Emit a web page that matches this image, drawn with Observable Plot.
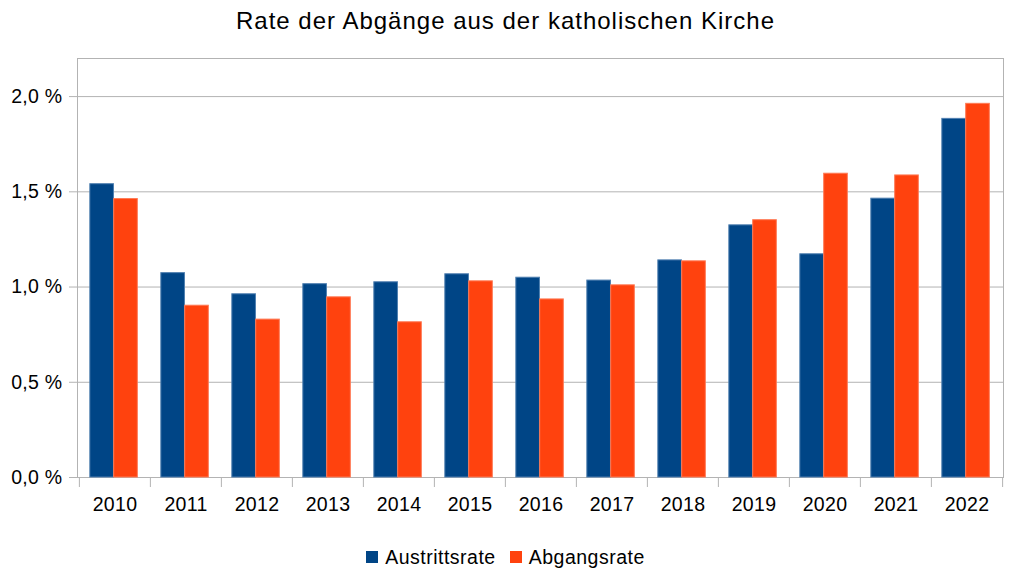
<!DOCTYPE html>
<html>
<head>
<meta charset="utf-8">
<script src="https://cdn.jsdelivr.net/npm/d3@7"></script>
<script src="https://cdn.jsdelivr.net/npm/@observablehq/plot@0.6"></script>
<style>
  html, body { margin: 0; padding: 0; background: #fff; }
  body { width: 1011px; height: 574px; position: relative; overflow: hidden;
         font-family: "Liberation Sans", Arial, sans-serif; color: #000; }
  #title { position: absolute; left: 0; width: 1011px; top: 6px; text-align: center;
           font-size: 24px; line-height: 30px; letter-spacing: 1px; }
  #chart { position: absolute; left: 0; top: 0; }
  #legend { position: absolute; left: 0; width: 1011px; top: 545px; display: flex;
            justify-content: center; align-items: center; font-size: 19.5px; line-height: 24px;
            letter-spacing: 0.5px; }
  #legend .item { display: flex; align-items: center; margin: 0 7px; }
  #legend .sw { width: 12px; height: 12px; margin-right: 7px; }
  #chart g[aria-label="y-axis tick"] { stroke: #b3b3b3; }
  #chart g[aria-label="y-axis tick label"], #chart g[aria-label="x-axis tick label"] { letter-spacing: 0.3px; }
</style>
</head>
<body>
<div id="chart"></div>
<div id="title">Rate der Abgänge aus der katholischen Kirche</div>
<div id="legend"></div>
<script>
// Jahre und Raten (in Prozent)
const years = ["2010", "2011", "2012", "2013", "2014", "2015", "2016", "2017", "2018", "2019", "2020", "2021", "2022"];
const austrittsrate = [1.54, 1.073, 0.962, 1.015, 1.025, 1.067, 1.049, 1.034, 1.14, 1.324, 1.172, 1.464, 1.883];
const abgangsrate = [1.462, 0.902, 0.829, 0.946, 0.815, 1.03, 0.935, 1.009, 1.135, 1.351, 1.595, 1.586, 1.962];
const seriesNames = ["Austrittsrate", "Abgangsrate"];
const seriesColors = ["#004586", "#ff420e"];
const yTicks = [0, 0.5, 1.0, 1.5, 2.0];

const W = 1011, H = 574;
const margin = {top: 58, right: 8, bottom: 97, left: 77};
const bw = (W - margin.left - margin.right) / years.length;
const lead = 0.152, barFrac = 0.335;
const plotH = H - margin.top - margin.bottom;

const rowsA = years.map((year, i) => ({year, value: austrittsrate[i]}));
const rowsB = years.map((year, i) => ({year, value: abgangsrate[i]}));
const fmt = d => d.toFixed(1).replace(".", ",") + " %";

const chart = Plot.plot({
  width: W,
  height: H,
  marginTop: margin.top,
  marginRight: margin.right,
  marginBottom: margin.bottom,
  marginLeft: margin.left,
  style: {fontFamily: "Liberation Sans, Arial, sans-serif", fontSize: "19.5px", color: "#000", background: "#fff"},
  x: {type: "band", domain: years, padding: 0},
  y: {domain: [0, 2.2]},
  marks: [
    Plot.gridY(yTicks, {stroke: "#b3b3b3", strokeOpacity: 1}),
    Plot.frame({stroke: "#b3b3b3"}),
    // category separators below the axis
    Plot.ruleX(years, {x: d => d, dx: -bw / 2, stroke: "#b3b3b3", insetTop: plotH, insetBottom: -10}),
    Plot.ruleX(years.slice(-1), {x: d => d, dx: bw / 2, stroke: "#b3b3b3", insetTop: plotH, insetBottom: -10}),
    Plot.barY(rowsA, {x: "year", y: "value", fill: seriesColors[0],
      stroke: "#4f7fb0", strokeWidth: 1,
      insetLeft: lead * bw, insetRight: (1 - lead - barFrac) * bw}),
    Plot.barY(rowsB, {x: "year", y: "value", fill: seriesColors[1],
      stroke: "#ff7a55", strokeWidth: 1,
      insetLeft: (lead + barFrac) * bw, insetRight: (1 - lead - 2 * barFrac) * bw}),
    Plot.axisY({ticks: yTicks, tickSize: 8, tickPadding: 7, tickFormat: fmt, label: null}),
    Plot.axisX({tickSize: 0, tickPadding: 20, label: null})
  ]
});
document.getElementById("chart").appendChild(chart);

const legend = document.getElementById("legend");
seriesNames.forEach((name, i) => {
  const item = document.createElement("div");
  item.className = "item";
  const sw = document.createElement("div");
  sw.className = "sw";
  sw.style.background = seriesColors[i];
  const label = document.createElement("span");
  label.textContent = name;
  item.appendChild(sw);
  item.appendChild(label);
  legend.appendChild(item);
});
</script>
</body>
</html>
